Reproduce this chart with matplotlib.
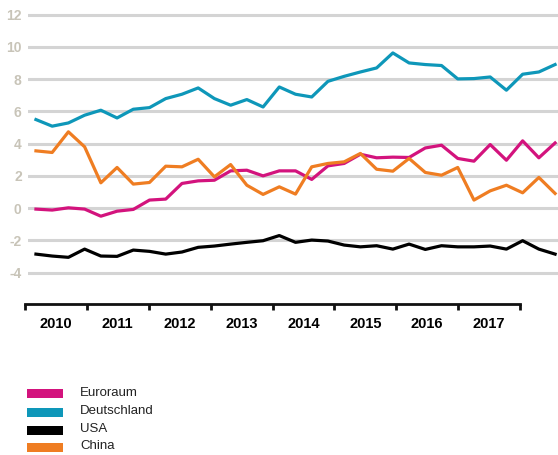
import numpy as np
import matplotlib
matplotlib.use('Agg')
import matplotlib.pyplot as plt
from matplotlib.patches import Rectangle

plt.rcParams['font.family'] = ['Liberation Sans', 'DejaVu Sans']

# quarterly values, Q1 2010 .. Q1 2018
euroraum = [-0.06, -0.12, 0.02, -0.06, -0.50, -0.19, -0.08, 0.50, 0.56, 1.53, 1.69,
            1.73, 2.31, 2.35, 2.00, 2.31, 2.31, 1.78, 2.62, 2.77, 3.34, 3.12,
            3.16, 3.14, 3.73, 3.90, 3.08, 2.91, 3.94, 2.97, 4.17, 3.12, 4.04]
deutschland = [5.49, 5.08, 5.28, 5.76, 6.07, 5.59, 6.13, 6.23, 6.79, 7.06, 7.45,
               6.79, 6.38, 6.73, 6.27, 7.51, 7.06, 6.89, 7.86, 8.17, 8.44, 8.69,
               9.62, 9.00, 8.90, 8.84, 8.01, 8.03, 8.13, 7.31, 8.30, 8.44, 8.90]
usa = [-2.85, -2.97, -3.05, -2.54, -2.97, -2.99, -2.60, -2.68, -2.85, -2.72, -2.43,
       -2.35, -2.23, -2.12, -2.02, -1.70, -2.12, -1.98, -2.04, -2.29, -2.40, -2.33,
       -2.54, -2.23, -2.56, -2.33, -2.40, -2.40, -2.35, -2.54, -2.02, -2.54, -2.85]
china = [3.55, 3.45, 4.73, 3.80, 1.57, 2.52, 1.49, 1.59, 2.60, 2.56, 3.03,
         1.94, 2.70, 1.42, 0.85, 1.32, 0.87, 2.56, 2.77, 2.87, 3.39, 2.41,
         2.29, 3.08, 2.21, 2.04, 2.52, 0.50, 1.07, 1.42, 0.95, 1.90, 0.91]

series_names = ['Euroraum', 'Deutschland', 'USA', 'China']
series_colors = ['#d3137d', '#0e97b9', '#000000', '#ef7d22']
years = [2010, 2011, 2012, 2013, 2014, 2015, 2016, 2017]
y_ticks = [-4, -2, 0, 2, 4, 6, 8, 10, 12]

W, H = 558, 455
fig = plt.figure(figsize=(W / 100, H / 100), dpi=100)


def frac(x0, y_top, w, h):
    # pixel box (top-left origin) -> figure fraction
    return [x0 / W, 1 - (y_top + h) / H, w / W, h / H]


# main plot area
ax = fig.add_axes(frac(28, 9.7, 530, 267.8))
x = np.arange(len(euroraum))
ax.set_xlim(-0.49, 32.18)
ax.set_ylim(-4.3, 12.3)
for yv in y_ticks:
    ax.axhline(yv, color='#d4d4d4', lw=2.2, zorder=1)

for vals, name, col in zip([euroraum, deutschland, usa, china], series_names, series_colors):
    ax.plot(x, vals, color=col, lw=2.3, label=name, zorder=3)

ax.set_yticks(y_ticks)
ax.set_yticklabels([str(v) for v in y_ticks], fontsize=10, fontweight='bold', color='#c8c4b8')
ax.tick_params(axis='y', length=0, pad=4.5)
ax.set_xticks([])
for s in ax.spines.values():
    s.set_visible(False)

# year axis underneath
axy = fig.add_axes(frac(25, 304, 495, 0.01))
axy.set_xlim(2010, 2018)
axy.set_ylim(0, 1)
axy.set_yticks([])
for k in ['top', 'left', 'right']:
    axy.spines[k].set_visible(False)
axy.spines['bottom'].set_linewidth(2.0)
axy.spines['bottom'].set_color('#111111')
axy.set_xticks(years + [2018])
axy.set_xticklabels([])
axy.tick_params(axis='x', which='major', direction='out', length=4.5, width=2.0, color='#111111')
axy.set_xticks([yr + 0.5 for yr in years], minor=True)
axy.set_xticklabels([str(yr) for yr in years], minor=True, fontsize=10.5, fontweight='bold')
axy.tick_params(axis='x', which='minor', length=0, pad=9.5)

# legend
rows = [393.8, 412, 430, 447]
for yc, name, col in zip(rows, series_names, series_colors):
    fig.add_artist(Rectangle((27 / W, 1 - (yc + 4.5) / H), 36 / W, 9 / H,
                             transform=fig.transFigure, color=col, lw=0))
    fig.text(80 / W, 1 - (yc - 1) / H, name, fontsize=9.5, color='#222222',
             va='center', ha='left')

fig.savefig('out.png', dpi=100)
